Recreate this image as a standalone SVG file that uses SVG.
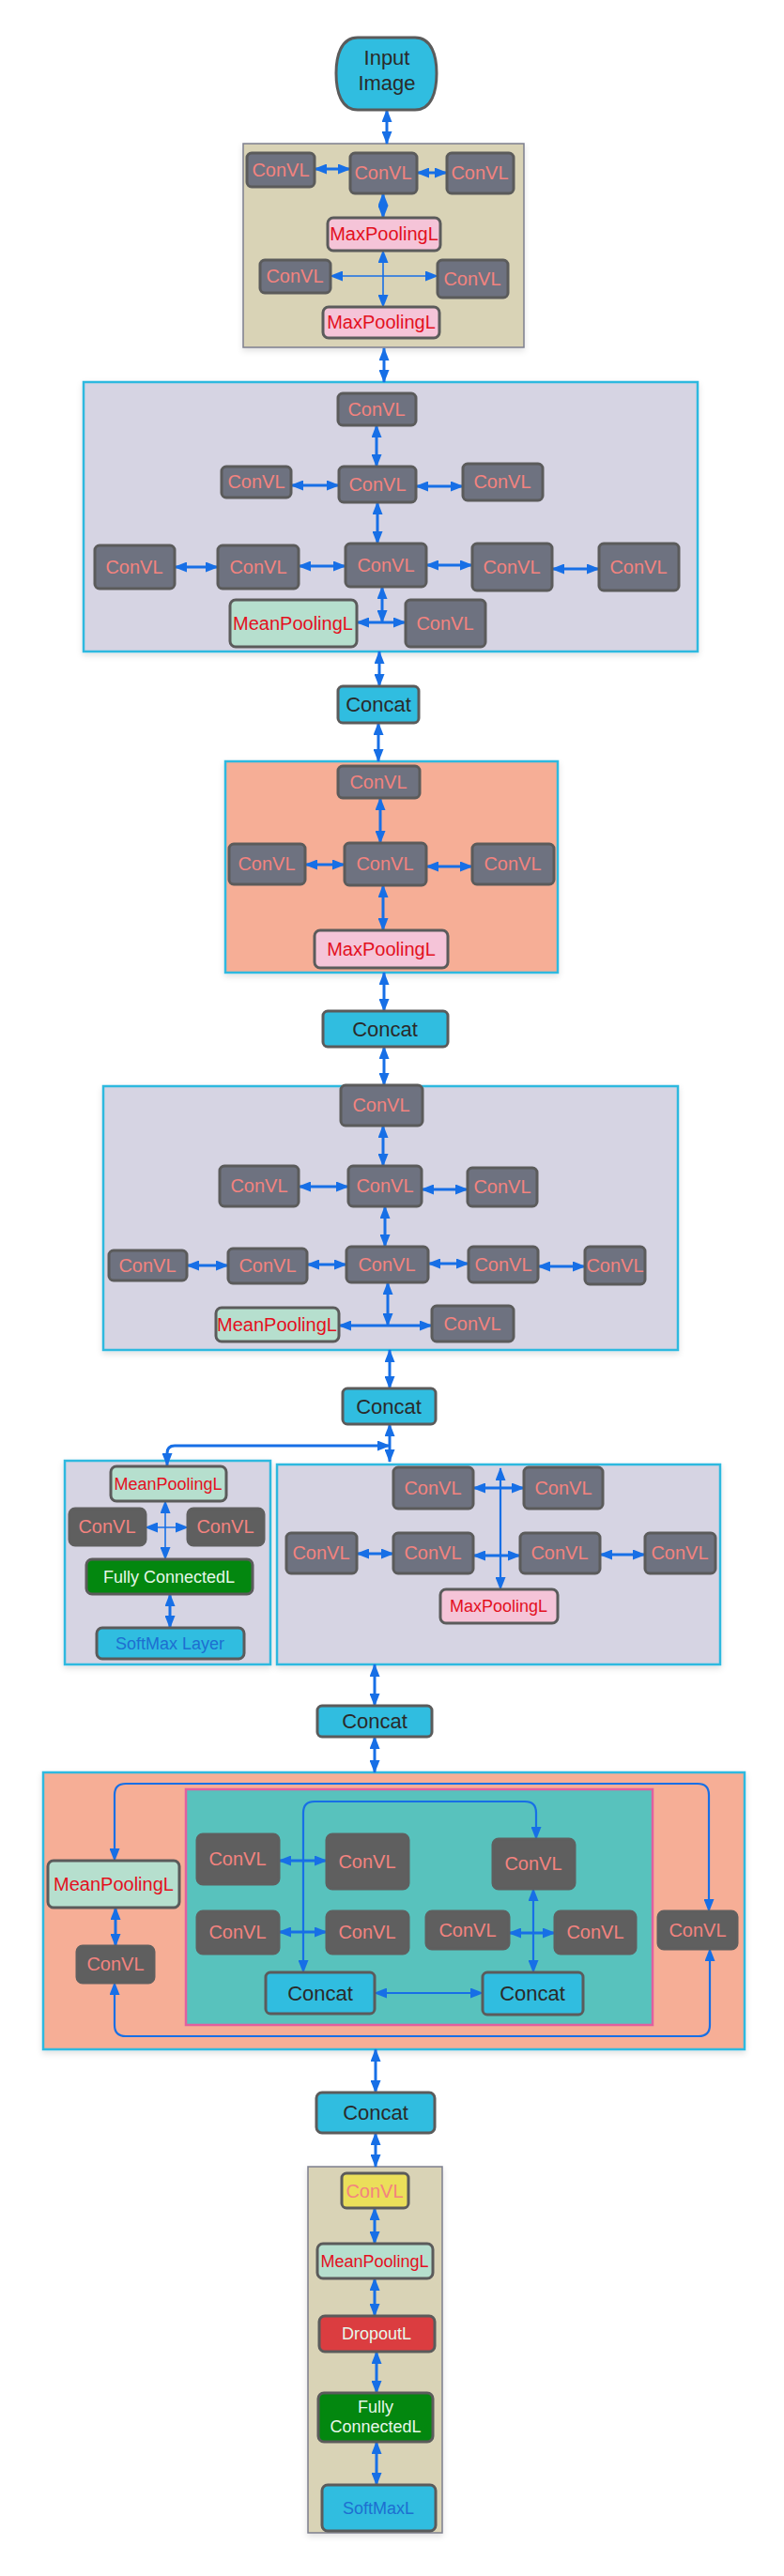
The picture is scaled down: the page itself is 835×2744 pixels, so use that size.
<svg xmlns="http://www.w3.org/2000/svg" width="835" height="2744" viewBox="0 0 835 2744">
<defs>
<marker id="ah" viewBox="0 0 14 11" refX="13" refY="5.5" markerWidth="14" markerHeight="11" markerUnits="userSpaceOnUse" orient="auto-start-reverse"><path d="M0,0 L14,5.5 L0,11 z" fill="#176fe6"/></marker>
<filter id="sh" x="-5%" y="-5%" width="110%" height="110%"><feDropShadow dx="0" dy="3" stdDeviation="3" flood-color="#000" flood-opacity="0.12"/></filter>
<style>
text{font-family:"Liberation Sans",Arial,sans-serif;text-anchor:middle}
.box{filter:url(#sh)}
.tan{fill:#d9d3b6;stroke:#7d7f8e;stroke-width:1.5}
.lav{fill:#d6d4e3;stroke:#2fb9df;stroke-width:2.5}
.sal{fill:#f6ae96;stroke:#2fb9df;stroke-width:2.5}
.teal{fill:#58c2bd;stroke:#e0609f;stroke-width:2.5}
.n{stroke:#5b5b5b;stroke-width:3}
.conv{fill:#6e7280}
.convd{fill:#5f5f5f;stroke:#5f5f5f}
.yel{fill:#ebdf5a}
.maxp{fill:#f5c4d8}
.meanp{fill:#b6dfce}
.cyan{fill:#30bde0}
.green{fill:#03870f}
.red{fill:#db3d40}
.ct{fill:#f3837f;font-size:20px}
.pt{fill:#e3101e;font-size:20px}
.pt18{fill:#e3101e;font-size:18px}
.kt{fill:#2a2a2a;font-size:22px}
.wt{fill:#e6f7ea;font-size:18px}
.bt{fill:#1d6fd1;font-size:18px}
#connectors line,#connectors path{stroke:#176fe6;stroke-width:3;fill:none;marker-start:url(#ah);marker-end:url(#ah)}
#connectors .thin{stroke-width:1.6}
#connectors .mid{stroke-width:2.2}
</style>
</defs>
<rect width="835" height="2744" fill="#ffffff"/>

<!-- containers -->
<g id="box1"><rect class="box tan" x="259" y="153" width="299" height="217"/></g>
<g id="box2"><rect class="box lav" x="89" y="407" width="654" height="287"/></g>
<g id="box3"><rect class="box sal" x="240" y="811" width="354" height="225"/></g>
<g id="box4"><rect class="box lav" x="110" y="1157" width="612" height="281"/></g>
<g id="box5a"><rect class="box lav" x="69" y="1556" width="219" height="217"/></g>
<g id="box5b"><rect class="box lav" x="295" y="1560" width="472" height="213"/></g>
<g id="box6"><rect class="box sal" x="46" y="1888" width="747" height="295"/><rect class="teal" x="198" y="1906" width="497" height="251"/></g>
<g id="box7"><rect class="box tan" x="328" y="2308" width="143" height="390"/></g>

<!-- connectors -->
<g id="connectors">
<line x1="412" y1="117" x2="412" y2="153"/>
<line x1="409" y1="371" x2="409" y2="407"/>
<line x1="404" y1="694" x2="404" y2="731"/>
<line x1="403" y1="770" x2="403" y2="811"/>
<line x1="409" y1="1036" x2="409" y2="1077"/>
<line x1="409" y1="1115" x2="409" y2="1156"/>
<line x1="415" y1="1438" x2="415" y2="1479"/>
<line x1="415" y1="1517" x2="415" y2="1557"/>
<path d="M415,1540 H186 Q178,1540 178,1548 V1561"/>
<line x1="399" y1="1773" x2="399" y2="1817"/>
<line x1="399" y1="1850" x2="399" y2="1888"/>
<line x1="400" y1="2183" x2="400" y2="2229"/>
<line x1="400" y1="2272" x2="400" y2="2308"/>
<!-- box1 -->
<line x1="335" y1="180" x2="373" y2="180"/>
<line x1="444" y1="184" x2="476" y2="184"/>
<line x1="408" y1="206" x2="408" y2="232"/>
<line class="thin" x1="408" y1="267" x2="408" y2="327"/>
<line class="thin" x1="352" y1="294" x2="466" y2="294"/>
<!-- box2 -->
<line x1="401" y1="453" x2="401" y2="497"/>
<line x1="310" y1="517" x2="361" y2="517"/>
<line x1="443" y1="518" x2="493" y2="518"/>
<line x1="402" y1="535" x2="402" y2="579"/>
<line x1="186" y1="604" x2="232" y2="604"/>
<line x1="318" y1="603" x2="368" y2="603"/>
<line x1="454" y1="602" x2="503" y2="602"/>
<line x1="588" y1="606" x2="638" y2="606"/>
<line x1="407" y1="625" x2="407" y2="663"/>
<line x1="380" y1="663" x2="432" y2="663"/>
<!-- box3 -->
<line x1="405" y1="850" x2="405" y2="898"/>
<line x1="325" y1="921" x2="367" y2="921"/>
<line x1="454" y1="923" x2="503" y2="923"/>
<line x1="408" y1="943" x2="408" y2="991"/>
<!-- box4 -->
<line x1="408" y1="1199" x2="408" y2="1242"/>
<line x1="318" y1="1264" x2="371" y2="1264"/>
<line x1="449" y1="1267" x2="498" y2="1267"/>
<line x1="410" y1="1285" x2="410" y2="1328"/>
<line x1="199" y1="1348" x2="243" y2="1348"/>
<line x1="327" y1="1347" x2="369" y2="1347"/>
<line x1="456" y1="1346" x2="499" y2="1346"/>
<line x1="573" y1="1349" x2="623" y2="1349"/>
<line x1="413" y1="1366" x2="413" y2="1412"/>
<line x1="361" y1="1412" x2="460" y2="1412"/>
<!-- box5a -->
<line class="thin" x1="176" y1="1599" x2="176" y2="1661"/>
<line class="thin" x1="155" y1="1627" x2="200" y2="1627"/>
<line x1="181" y1="1698" x2="181" y2="1734"/>
<!-- box5b -->
<line class="mid" x1="533" y1="1564" x2="533" y2="1693"/>
<line x1="504" y1="1585" x2="558" y2="1585"/>
<line x1="380" y1="1655" x2="419" y2="1655"/>
<line x1="504" y1="1657" x2="554" y2="1657"/>
<line x1="639" y1="1656" x2="687" y2="1656"/>
<!-- box6 -->
<path class="mid" d="M122,1982 V1912 Q122,1900 134,1900 H743 Q755,1900 755,1912 V2036"/>
<path class="mid" d="M122,2112 V2157 Q122,2169 134,2169 H744 Q756,2169 756,2157 V2076"/>
<line x1="123" y1="2032" x2="123" y2="2073"/>
<path class="mid" d="M323,2101 V1931 Q323,1919 335,1919 H559 Q571,1919 571,1931 V1959"/>
<line x1="297" y1="1982" x2="348" y2="1982"/>
<line x1="297" y1="2058" x2="348" y2="2058"/>
<line x1="542" y1="2059" x2="591" y2="2059"/>
<line class="mid" x1="568" y1="2012" x2="568" y2="2101"/>
<line class="mid" x1="399" y1="2123" x2="514" y2="2123"/>
<!-- box7 -->
<line x1="399" y1="2352" x2="399" y2="2390"/>
<line x1="399" y1="2427" x2="399" y2="2467"/>
<line x1="401" y1="2505" x2="401" y2="2549"/>
<line x1="401" y1="2601" x2="401" y2="2647"/>
</g>

<!-- nodes -->
<g id="input"><path class="n cyan" d="M381,40 H442 C460,40 465,60 465,78 C465,97 460,117 442,117 H381 C363,117 358,97 358,78 C358,60 363,40 381,40 Z"/><text class="kt" x="412" y="69">Input</text><text class="kt" x="412" y="96">Image</text></g>

<g id="b1c1"><rect class="n conv" x="263" y="163" width="72" height="36" rx="5"/><text class="ct" x="299" y="188">ConVL</text></g>
<g id="b1c2"><rect class="n conv" x="373" y="163" width="71" height="43" rx="5"/><text class="ct" x="408" y="191">ConVL</text></g>
<g id="b1c3"><rect class="n conv" x="476" y="163" width="71" height="43" rx="5"/><text class="ct" x="511" y="191">ConVL</text></g>
<g id="b1mp1"><rect class="n maxp" x="349" y="232" width="120" height="35" rx="6"/><text class="pt" x="409" y="256">MaxPoolingL</text></g>
<g id="b1c4"><rect class="n conv" x="277" y="277" width="75" height="35" rx="5"/><text class="ct" x="314" y="301">ConVL</text></g>
<g id="b1c5"><rect class="n conv" x="466" y="277" width="75" height="40" rx="5"/><text class="ct" x="503" y="304">ConVL</text></g>
<g id="b1mp2"><rect class="n maxp" x="344" y="327" width="124" height="33" rx="6"/><text class="pt" x="406" y="350">MaxPoolingL</text></g>

<g id="b2c1"><rect class="n conv" x="360" y="419" width="83" height="34" rx="5"/><text class="ct" x="401" y="443">ConVL</text></g>
<g id="b2c2"><rect class="n conv" x="236" y="497" width="74" height="33" rx="5"/><text class="ct" x="273" y="520">ConVL</text></g>
<g id="b2c3"><rect class="n conv" x="361" y="497" width="82" height="38" rx="5"/><text class="ct" x="402" y="523">ConVL</text></g>
<g id="b2c4"><rect class="n conv" x="493" y="494" width="85" height="39" rx="5"/><text class="ct" x="535" y="520">ConVL</text></g>
<g id="b2c5"><rect class="n conv" x="101" y="581" width="85" height="46" rx="5"/><text class="ct" x="143" y="611">ConVL</text></g>
<g id="b2c6"><rect class="n conv" x="232" y="581" width="86" height="46" rx="5"/><text class="ct" x="275" y="611">ConVL</text></g>
<g id="b2c7"><rect class="n conv" x="368" y="579" width="86" height="46" rx="5"/><text class="ct" x="411" y="609">ConVL</text></g>
<g id="b2c8"><rect class="n conv" x="503" y="579" width="85" height="50" rx="5"/><text class="ct" x="545" y="611">ConVL</text></g>
<g id="b2c9"><rect class="n conv" x="638" y="579" width="85" height="50" rx="5"/><text class="ct" x="680" y="611">ConVL</text></g>
<g id="b2mp"><rect class="n meanp" x="245" y="639" width="135" height="50" rx="6"/><text class="pt" x="312" y="671">MeanPoolingL</text></g>
<g id="b2c10"><rect class="n conv" x="432" y="639" width="85" height="50" rx="5"/><text class="ct" x="474" y="671">ConVL</text></g>

<g id="concat1"><rect class="n cyan" x="360" y="731" width="86" height="39" rx="5"/><text class="kt" x="403" y="758">Concat</text></g>

<g id="b3c1"><rect class="n conv" x="360" y="816" width="87" height="34" rx="5"/><text class="ct" x="403" y="840">ConVL</text></g>
<g id="b3c2"><rect class="n conv" x="244" y="899" width="81" height="43" rx="5"/><text class="ct" x="284" y="927">ConVL</text></g>
<g id="b3c3"><rect class="n conv" x="367" y="898" width="87" height="45" rx="5"/><text class="ct" x="410" y="927">ConVL</text></g>
<g id="b3c4"><rect class="n conv" x="503" y="899" width="87" height="43" rx="5"/><text class="ct" x="546" y="927">ConVL</text></g>
<g id="b3mp"><rect class="n maxp" x="335" y="991" width="142" height="40" rx="6"/><text class="pt" x="406" y="1018">MaxPoolingL</text></g>

<g id="concat2"><rect class="n cyan" x="344" y="1077" width="133" height="38" rx="5"/><text class="kt" x="410" y="1104">Concat</text></g>

<g id="b4c1"><rect class="n conv" x="363" y="1156" width="87" height="43" rx="5"/><text class="ct" x="406" y="1184">ConVL</text></g>
<g id="b4c2"><rect class="n conv" x="234" y="1242" width="84" height="43" rx="5"/><text class="ct" x="276" y="1270">ConVL</text></g>
<g id="b4c3"><rect class="n conv" x="371" y="1242" width="78" height="43" rx="5"/><text class="ct" x="410" y="1270">ConVL</text></g>
<g id="b4c4"><rect class="n conv" x="498" y="1244" width="74" height="41" rx="5"/><text class="ct" x="535" y="1271">ConVL</text></g>
<g id="b4c5"><rect class="n conv" x="116" y="1332" width="83" height="32" rx="5"/><text class="ct" x="157" y="1355">ConVL</text></g>
<g id="b4c6"><rect class="n conv" x="243" y="1330" width="84" height="37" rx="5"/><text class="ct" x="285" y="1355">ConVL</text></g>
<g id="b4c7"><rect class="n conv" x="369" y="1328" width="87" height="38" rx="5"/><text class="ct" x="412" y="1354">ConVL</text></g>
<g id="b4c8"><rect class="n conv" x="499" y="1328" width="74" height="38" rx="5"/><text class="ct" x="536" y="1354">ConVL</text></g>
<g id="b4c9"><rect class="n conv" x="623" y="1328" width="64" height="40" rx="5"/><text class="ct" x="655" y="1355">ConVL</text></g>
<g id="b4mp"><rect class="n meanp" x="230" y="1393" width="131" height="36" rx="6"/><text class="pt" x="295" y="1418">MeanPoolingL</text></g>
<g id="b4c10"><rect class="n conv" x="460" y="1391" width="87" height="38" rx="5"/><text class="ct" x="503" y="1417">ConVL</text></g>

<g id="concat3"><rect class="n cyan" x="365" y="1479" width="99" height="38" rx="5"/><text class="kt" x="414" y="1506">Concat</text></g>

<g id="b5amp"><rect class="n meanp" x="118" y="1562" width="123" height="37" rx="6"/><text class="pt18" x="179" y="1587">MeanPoolingL</text></g>
<g id="b5ac1"><rect class="n convd" x="74" y="1607" width="81" height="39" rx="6"/><text class="ct" x="114" y="1633">ConVL</text></g>
<g id="b5ac2"><rect class="n convd" x="200" y="1607" width="81" height="39" rx="6"/><text class="ct" x="240" y="1633">ConVL</text></g>
<g id="b5afc"><rect class="n green" x="92" y="1661" width="177" height="37" rx="6"/><text class="wt" x="180" y="1686">Fully ConnectedL</text></g>
<g id="b5asm"><rect class="n cyan" x="103" y="1734" width="157" height="33" rx="6"/><text class="bt" x="181" y="1757">SoftMax Layer</text></g>

<g id="b5bc1"><rect class="n conv" x="419" y="1563" width="85" height="44" rx="5"/><text class="ct" x="461" y="1592">ConVL</text></g>
<g id="b5bc2"><rect class="n conv" x="558" y="1563" width="84" height="44" rx="5"/><text class="ct" x="600" y="1592">ConVL</text></g>
<g id="b5bc3"><rect class="n conv" x="305" y="1633" width="75" height="43" rx="5"/><text class="ct" x="342" y="1661">ConVL</text></g>
<g id="b5bc4"><rect class="n conv" x="419" y="1633" width="85" height="43" rx="5"/><text class="ct" x="461" y="1661">ConVL</text></g>
<g id="b5bc5"><rect class="n conv" x="554" y="1633" width="85" height="43" rx="5"/><text class="ct" x="596" y="1661">ConVL</text></g>
<g id="b5bc6"><rect class="n conv" x="687" y="1633" width="75" height="43" rx="5"/><text class="ct" x="724" y="1661">ConVL</text></g>
<g id="b5bmp"><rect class="n maxp" x="469" y="1693" width="125" height="36" rx="6"/><text class="pt18" x="531" y="1717">MaxPoolingL</text></g>

<g id="concat4"><rect class="n cyan" x="338" y="1817" width="122" height="33" rx="5"/><text class="kt" x="399" y="1841">Concat</text></g>

<g id="b6mp"><rect class="n meanp" x="51" y="1982" width="140" height="50" rx="6"/><text class="pt" x="121" y="2014">MeanPoolingL</text></g>
<g id="b6cl"><rect class="n convd" x="82" y="2073" width="82" height="39" rx="6"/><text class="ct" x="123" y="2099">ConVL</text></g>
<g id="b6cr"><rect class="n convd" x="701" y="2036" width="84" height="40" rx="6"/><text class="ct" x="743" y="2063">ConVL</text></g>
<g id="b6i1"><rect class="n convd" x="210" y="1954" width="87" height="53" rx="6"/><text class="ct" x="253" y="1987">ConVL</text></g>
<g id="b6i2"><rect class="n convd" x="348" y="1954" width="87" height="58" rx="6"/><text class="ct" x="391" y="1990">ConVL</text></g>
<g id="b6i3"><rect class="n convd" x="525" y="1959" width="87" height="53" rx="6"/><text class="ct" x="568" y="1992">ConVL</text></g>
<g id="b6i4"><rect class="n convd" x="210" y="2036" width="87" height="45" rx="6"/><text class="ct" x="253" y="2065">ConVL</text></g>
<g id="b6i5"><rect class="n convd" x="348" y="2036" width="87" height="45" rx="6"/><text class="ct" x="391" y="2065">ConVL</text></g>
<g id="b6i6"><rect class="n convd" x="454" y="2036" width="88" height="40" rx="6"/><text class="ct" x="498" y="2063">ConVL</text></g>
<g id="b6i7"><rect class="n convd" x="591" y="2036" width="86" height="45" rx="6"/><text class="ct" x="634" y="2065">ConVL</text></g>
<g id="b6k1"><rect class="n cyan" x="283" y="2101" width="116" height="44" rx="5"/><text class="kt" x="341" y="2131">Concat</text></g>
<g id="b6k2"><rect class="n cyan" x="514" y="2101" width="107" height="45" rx="5"/><text class="kt" x="567" y="2131">Concat</text></g>

<g id="concat5"><rect class="n cyan" x="337" y="2229" width="126" height="43" rx="6"/><text class="kt" x="400" y="2258">Concat</text></g>

<g id="b7c"><rect class="n yel" x="364" y="2315" width="71" height="37" rx="5"/><text class="ct" x="399" y="2341">ConVL</text></g>
<g id="b7mp"><rect class="n meanp" x="338" y="2390" width="123" height="37" rx="6"/><text class="pt18" x="399" y="2415">MeanPoolingL</text></g>
<g id="b7do"><rect class="n red" x="340" y="2467" width="123" height="38" rx="6"/><text class="wt" x="401" y="2492">DropoutL</text></g>
<g id="b7fc"><rect class="n green" x="339" y="2549" width="122" height="52" rx="6"/><text class="wt" x="400" y="2570">Fully</text><text class="wt" x="400" y="2591">ConnectedL</text></g>
<g id="b7sm"><rect class="n cyan" x="343" y="2647" width="121" height="49" rx="6"/><text class="bt" x="403" y="2678">SoftMaxL</text></g>
</svg>
